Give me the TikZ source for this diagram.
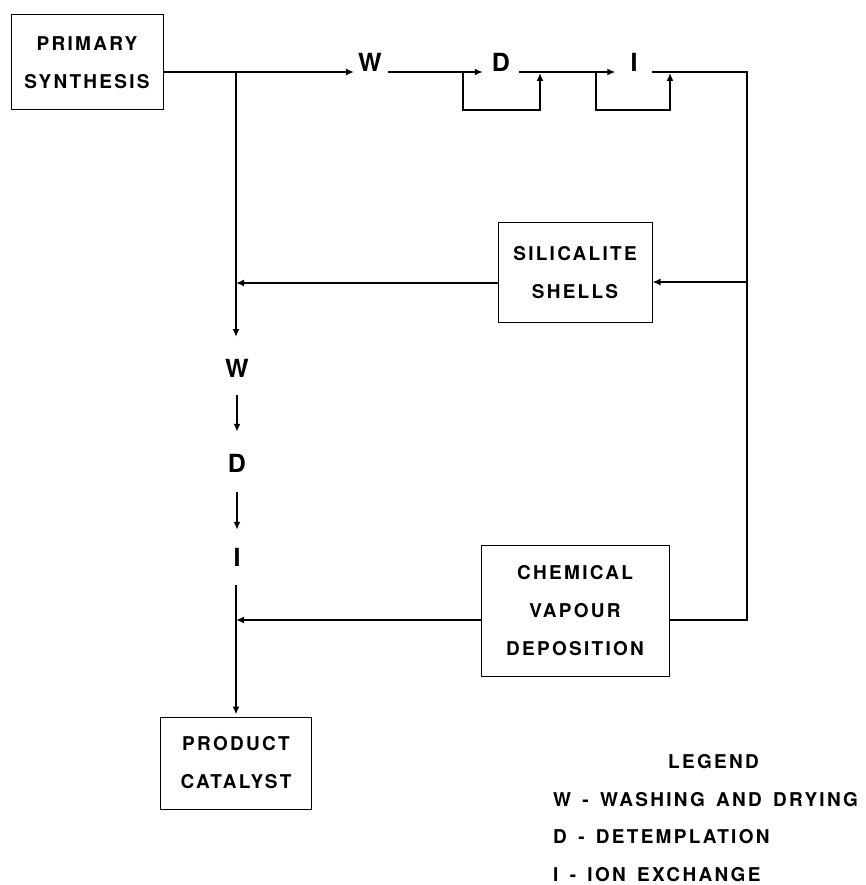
\documentclass[tikz,border=0pt]{standalone}
\usepackage{fontspec}
\setmainfont{TeX Gyre Heros}[LetterSpace=12, WordSpace=1.5]
\usetikzlibrary{positioning, calc, arrows.meta}

\begin{document}
\begin{tikzpicture}[x=1pt, y=-1pt,
    font=\fontsize{19}{38}\selectfont\bfseries,
    flow/.style={-{Latex[length=8pt,width=7pt]}, line width=2pt},
    line/.style={line width=2pt},
    stage/.style={draw, line width=1pt, align=center, inner sep=0pt},
    lbl/.style={inner sep=2pt, font=\fontsize{25}{30}\selectfont\bfseries,
        text height=18pt, text depth=0pt}]
    \useasboundingbox (0,0) rectangle (866,885);

    % Process boxes
    \node[stage, minimum width=152pt, minimum height=95pt] (psyn) at (87,62.5) {PRIMARY\\SYNTHESIS};
    \node[stage, minimum width=154pt, minimum height=99pt] (shells) at (575,272.5) {SILICALITE\\SHELLS};
    \node[stage, minimum width=188pt, minimum height=131pt] (cvd) at (575,610.5) {CHEMICAL\\VAPOUR\\DEPOSITION};
    \node[stage, minimum width=151pt, minimum height=92pt] (prod) at (236,763) {PRODUCT\\CATALYST};

    % Step letters
    \node[lbl, anchor=base] (w1) at (370,72) {W};
    \node[lbl, anchor=base] (d1) at (501,72) {D};
    \node[lbl, anchor=base] (i1) at (634,72) {I};
    \node[lbl] (w2) at (237,368) {W};
    \node[lbl] (d2) at (237,463) {D};
    \node[lbl] (i2) at (237,557) {I};

    % Top route
    \draw[flow, shorten >=2pt] (psyn.east |- w1.base) -- (w1.base west);
    \draw[flow, shorten <=4pt, shorten >=7pt] (w1.base east) -- (d1.base west);
    \draw[flow, shorten <=7pt, shorten >=13pt] (d1.base east) -- (i1.base west);
    \draw[line, shorten <=12pt] (i1.base east) -| (747,620) -- (cvd.east |- 0,620);

    % Bypass loops
    \draw[flow] (463,72) |- (540,110) -- (540,73);
    \draw[flow] (596,72) |- (670,110) -- (670,73);

    % Direct route
    \draw[flow] (236,72) -- (236,337);
    \draw[flow, shorten <=16pt, shorten >=20pt] (w2) -- (d2);
    \draw[flow, shorten <=18pt, shorten >=16pt] (d2) -- (i2);
    \draw[line, shorten <=17pt] (i2.south -| prod.north) -- (236,620);
    \draw[flow, shorten >=2pt] (236,620) -- (prod);

    % Returns
    \draw[flow] (747,282) -- (shells.east |- 0,282);
    \draw[flow] (shells.west |- 0,283) -- (236,283);
    \draw[flow] (cvd.west |- 0,620) -- (236,620);

    % Legend
    \node[anchor=base, inner sep=0pt] (legend) at (713.5,768.5) {LEGEND};
    \node[anchor=base west, inner sep=0pt] (lw) at (553,806.5) {W - WASHING AND DRYING};
    \node[anchor=base west, inner sep=0pt] (ld) at (553,843.5) {D - DETEMPLATION};
    \node[anchor=base west, inner sep=0pt] (li) at (553,881.5) {I - ION EXCHANGE};
\end{tikzpicture}
\end{document}
